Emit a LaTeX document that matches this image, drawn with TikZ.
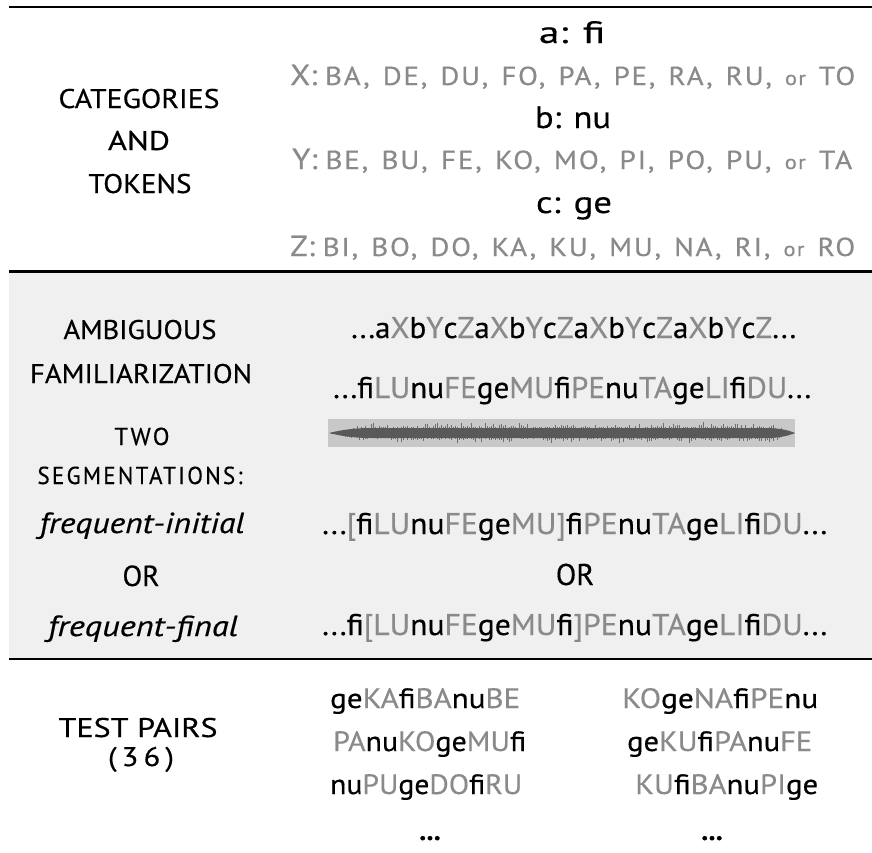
\documentclass[tikz,border=0pt]{standalone}
\usepackage{fontspec}
\setmainfont{PT Sans}[FakeBold=0.4]
\usepackage{graphicx}
\definecolor{tok}{HTML}{8A8A8A}
\definecolor{bg}{HTML}{F0F0F0}
\definecolor{wavebox}{HTML}{C8C8C8}
\definecolor{wavecore}{HTML}{595959}
\definecolor{wavespike}{HTML}{6E6E6E}
\newcommand\g[1]{\textcolor{tok}{#1}}
\newcommand\fw[2]{\resizebox{#1pt}{\height}{#2}}
\newcommand\toklist[2]{{\fontsize{29}{32}\selectfont #1:}\ {\addfontfeatures{LetterSpace=6}\spaceskip=0.45em\relax #2}}
\newcommand\smor{{\fontsize{20}{22}\selectfont or}}
\tikzset{
  lab/.style={anchor=base, inner sep=0pt, font=\fontsize{27}{30}\selectfont},
  labsm/.style={anchor=base, inner sep=0pt, font=\fontsize{24.5}{28}\selectfont\addfontfeatures{LetterSpace=10}},
  labit/.style={anchor=base, inner sep=0pt, font=\fontsize{29}{32}\selectfont\itshape},
  cat/.style={anchor=base, inner sep=0pt, font=\fontsize{31}{34}\selectfont},
  tokline/.style={anchor=base west, inner sep=0pt, font=\fontsize{26}{30}\selectfont},
  seq/.style={anchor=base west, inner sep=0pt, font=\fontsize{30}{34}\selectfont},
  pair/.style={anchor=base west, inner sep=0pt, font=\fontsize{28}{32}\selectfont},
  dots/.style={anchor=base, inner sep=0pt, font=\fontsize{28}{32}\selectfont\bfseries},
  rulebar/.style={line width=2.8pt, black},
}
\begin{document}
\begin{tikzpicture}[x=1pt,y=-1pt]
\useasboundingbox (0,0) rectangle (872,852);
\fill[white] (0,0) rectangle (872,852);
\fill[bg] (9,272) rectangle (872,658);
% rules
\coordinate (r1a) at (9,7);    \coordinate (r1b) at (872,7);
\coordinate (r2a) at (9,271.5); \coordinate (r2b) at (872,271.5);
\coordinate (r3a) at (9,659);  \coordinate (r3b) at (872,659);
\draw[rulebar, line width=2.5pt] (r1a) -- (r1b);
\draw[rulebar] (r2a) -- (r2b);
\draw[rulebar] (r3a) -- (r3b);

% ---------- categories and tokens ----------
\node[lab] (lcat) at (139,108) {\fw{161}{CATEGORIES}};
\node[lab] (land) at (139,150) {\fw{62}{AND}};
\node[lab] (ltok) at (140,193) {\fw{103}{TOKENS}};

\node[cat] (ca) at (572,43) {\fw{66}{a: fi}};
\node[tokline] (tx) at (290,85) {\fw{565}{\g{\toklist{X}{BA, DE, DU, FO, PA, PE, RA, RU, \smor{} TO}}}};
\node[cat] (cb) at (573,128) {\fw{76}{b: nu}};
\node[tokline] (ty) at (292,169) {\fw{560}{\g{\toklist{Y}{BE, BU, FE, KO, MO, PI, PO, PU, \smor{} TA}}}};
\node[cat] (cc) at (574,213) {\fw{76}{c: ge}};
\node[tokline] (tz) at (290,256) {\fw{565}{\g{\toklist{Z}{BI, BO, DO, KA, KU, MU, NA, RI, \smor{} RO}}}};

% ---------- familiarization ----------
\node[lab] (lamb) at (140,339) {\fw{153}{AMBIGUOUS}};
\node[lab] (lfam) at (141,383) {\fw{222}{FAMILIARIZATION}};
\node[labsm] (ltwo) at (142,445) {TWO};
\node[labsm] (lseg) at (140,484) {\fw{205}{SEGMENTATIONS:}};
\node[labit] (lfi) at (142,533) {\fw{205}{frequent-initial}};
\node[lab, font=\fontsize{29}{32}\selectfont] (lor) at (141,586) {OR};
\node[labit] (lff) at (143,636) {\fw{190}{frequent-final}};

\node[seq] (s1) at (351,338) {\fw{445}{...a\g{X}b\g{Y}c\g{Z}a\g{X}b\g{Y}c\g{Z}a\g{X}b\g{Y}c\g{Z}a\g{X}b\g{Y}c\g{Z}...}};
\node[seq] (s2) at (333,398) {\fw{478}{...fi\g{LU}nu\g{FE}ge\g{MU}fi\g{PE}nu\g{TA}ge\g{LI}fi\g{DU}...}};

% waveform
\node[draw=none, fill=wavebox, minimum width=467pt, minimum height=28pt, inner sep=0pt] (wbox) at (561.5,433) {};
\pgfmathsetseed{7}
\foreach \i in {0,...,231} {
  \pgfmathsetmacro\xx{331+2*\i}
  \pgfmathsetmacro\ee{min(1,min((\xx-329)/40,(795-\xx)/22))}
  \pgfmathsetmacro\tp{433-\ee*(5+6.5*rnd*rnd)}
  \pgfmathsetmacro\bt{433+\ee*(5+5.5*rnd*rnd)}
  \draw[wavespike, line width=1pt] (\xx,\tp) -- (\xx,\bt);
}
\fill[wavecore] (329,433) .. controls (345,429) and (358,428) .. (372,428) -- (765,428)
  .. controls (782,428) and (790,431) .. (795,433)
  .. controls (790,435) and (782,438) .. (765,438) -- (372,438)
  .. controls (358,438) and (345,437) .. (329,433) -- cycle;

\node[seq] (g1) at (322,534) {\fw{505}{...\g{[}fi\g{LU}nu\g{FE}ge\g{MU}\g{]}fi\g{PE}nu\g{TA}ge\g{LI}fi\g{DU}...}};
\node[lab, font=\fontsize{30}{34}\selectfont] (ror) at (575,585) {OR};
\node[seq] (g2) at (322,635) {\fw{505}{...fi\g{[LU}nu\g{FE}ge\g{MU}fi\g{]PE}nu\g{TA}ge\g{LI}fi\g{DU}...}};

% ---------- test pairs ----------
\node[lab] (ltp) at (138,737) {\fw{159}{TEST PAIRS}};
\node[lab] (l36) at (141,766) {\fw{66}{(\,3\,6\,)}};

\node[pair] (p11) at (330,708) {\fw{190}{ge\g{KA}fi\g{BA}nu\g{BE}}};
\node[pair] (p12) at (333,751) {\fw{193}{\g{PA}nu\g{KO}ge\g{MU}fi}};
\node[pair] (p13) at (330,794) {\fw{192}{nu\g{PU}ge\g{DO}fi\g{RU}}};
\node[pair] (p21) at (622,708) {\fw{196}{\g{KO}ge\g{NA}fi\g{PE}nu}};
\node[pair] (p22) at (627,751) {\fw{185}{ge\g{KU}fi\g{PA}nu\g{FE}}};
\node[pair] (p23) at (635,794) {\fw{183}{\g{KU}fi\g{BA}nu\g{PI}ge}};
\node[dots] (d1) at (430,840) {...};
\node[dots] (d2) at (712,840) {...};
\end{tikzpicture}
\end{document}
